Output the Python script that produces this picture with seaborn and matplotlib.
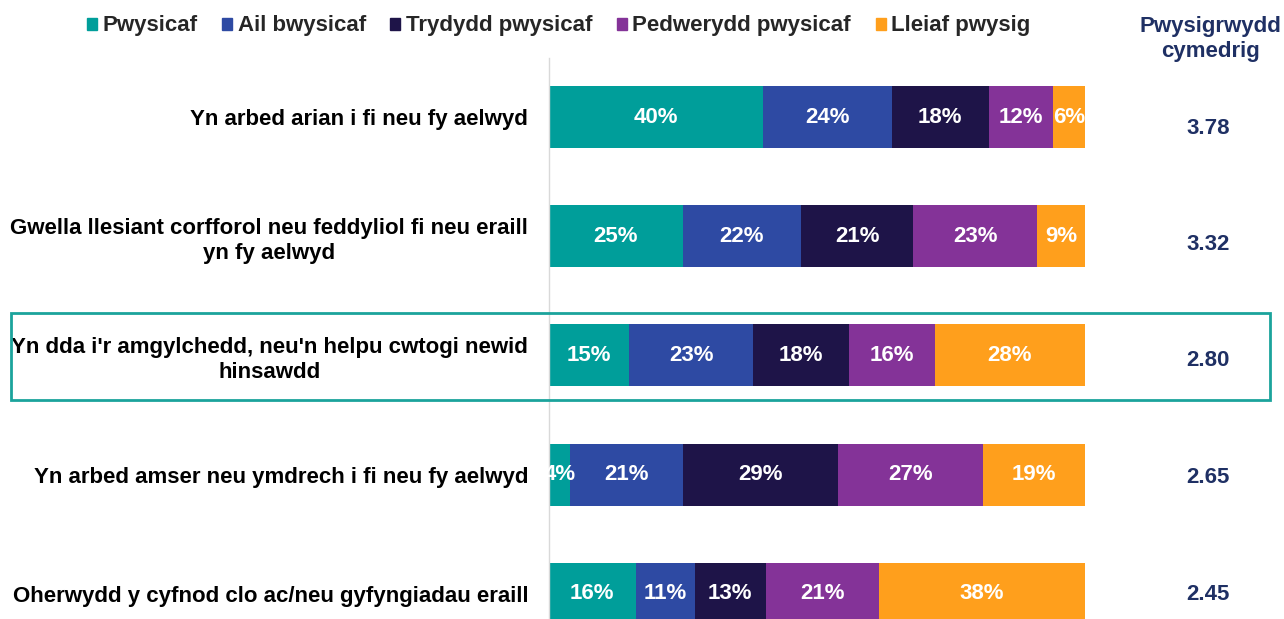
import seaborn as sns
import matplotlib.pyplot as plt
import matplotlib.patches as mpatches
import pandas as pd
import numpy as np

# data
reasons = ['Yn arbed arian i fi neu fy aelwyd',
           'Gwella llesiant corfforol neu feddyliol fi neu eraill\nyn fy aelwyd',
           "Yn dda i'r amgylchedd, neu'n helpu cwtogi newid\nhinsawdd",
           'Yn arbed amser neu ymdrech i fi neu fy aelwyd',
           'Oherwydd y cyfnod clo ac/neu gyfyngiadau eraill']
ranks = ['Pwysicaf', 'Ail bwysicaf', 'Trydydd pwysicaf', 'Pedwerydd pwysicaf', 'Lleiaf pwysig']
pwysicaf = [40, 25, 15, 4, 16]
ail = [24, 22, 23, 21, 11]
trydydd = [18, 21, 18, 29, 13]
pedwerydd = [12, 23, 16, 27, 21]
lleiaf = [6, 9, 28, 19, 38]
mean_score = ['3.78', '3.32', '2.80', '2.65', '2.45']

colours = ['#009E9A', '#2E4AA3', '#1E1448', '#843398', '#FF9F1C']
navy = '#1F3064'
fs = 16

sns.set_theme(style='white')
plt.rcParams['font.family'] = ['Liberation Sans', 'DejaVu Sans']
plt.rcParams['font.weight'] = 'bold'

df = pd.DataFrame({'reason': reasons, ranks[0]: pwysicaf, ranks[1]: ail,
                   ranks[2]: trydydd, ranks[3]: pedwerydd, ranks[4]: lleiaf})
# rows are shares of 100%, rounding can leave 99
totals = df[ranks].sum(axis=1)
share = df[ranks].div(totals, axis=0) * 100
cum = share.cumsum(axis=1)

fig = plt.figure(figsize=(12.84, 6.19), dpi=100)
ax = fig.add_axes([549 / 1284, 0, 536 / 1284, 561 / 619])

# stacked bars: draw cumulative totals, biggest first
for i in reversed(range(len(ranks))):
    sns.barplot(x=cum[ranks[i]], y=df['reason'], color=colours[i], orient='h',
                width=0.52, saturation=1, ax=ax, edgecolor='none')

for j in range(len(reasons)):
    left = 0
    for r in ranks:
        w = share[r][j]
        ax.text(left + w / 2, j, f'{df[r][j]}%', ha='center', va='center',
                color='white', fontsize=fs, fontweight='bold')
        left += w

ax.set_xlim(0, 100)
ax.set_ylim(4.21, -0.495)
ax.set_xlabel('')
ax.set_ylabel('')
ax.set_xticks([])
ax.tick_params(axis='y', length=0, pad=15)
for lab in ax.get_yticklabels():
    lab.set_multialignment('center')
    lab.set_fontsize(fs)
    lab.set_fontweight('bold')
    lab.set_color('black')
    lab.set_linespacing(1.25)
for s in ['top', 'right', 'bottom']:
    ax.spines[s].set_visible(False)
ax.spines['left'].set_color('#D9D9D9')
ax.spines['left'].set_linewidth(1)

# mean importance column (its own row grid, slightly tighter than the bars)
for j, m in enumerate(mean_score):
    y_px = 128 + j * 116.5
    fig.text(1208 / 1284, 1 - y_px / 619, m, ha='center', va='center',
             color=navy, fontsize=fs, fontweight='bold')
fig.text(1210 / 1284, 1 - 39 / 619, 'Pwysigrwydd\ncymedrig', ha='center', va='center',
         color=navy, fontsize=fs, fontweight='bold', linespacing=1.2)

# highlight box around third row
box = mpatches.Rectangle((11 / 1284, 1 - 400 / 619), (1270 - 11) / 1284, 87 / 619,
                         transform=fig.transFigure, fill=False,
                         edgecolor='#1BA39C', linewidth=2, clip_on=False)
fig.patches.append(box)

handles = [mpatches.Patch(color=c, label=r) for c, r in zip(colours, ranks)]
fig.legend(handles=handles, loc='center left', bbox_to_anchor=(67 / 1284, 1 - 26 / 619),
           ncol=5, frameon=False, fontsize=fs, handlelength=0.45, handleheight=0.45,
           handletextpad=0.25, columnspacing=1.1)

fig.savefig('out.png', dpi=100)
